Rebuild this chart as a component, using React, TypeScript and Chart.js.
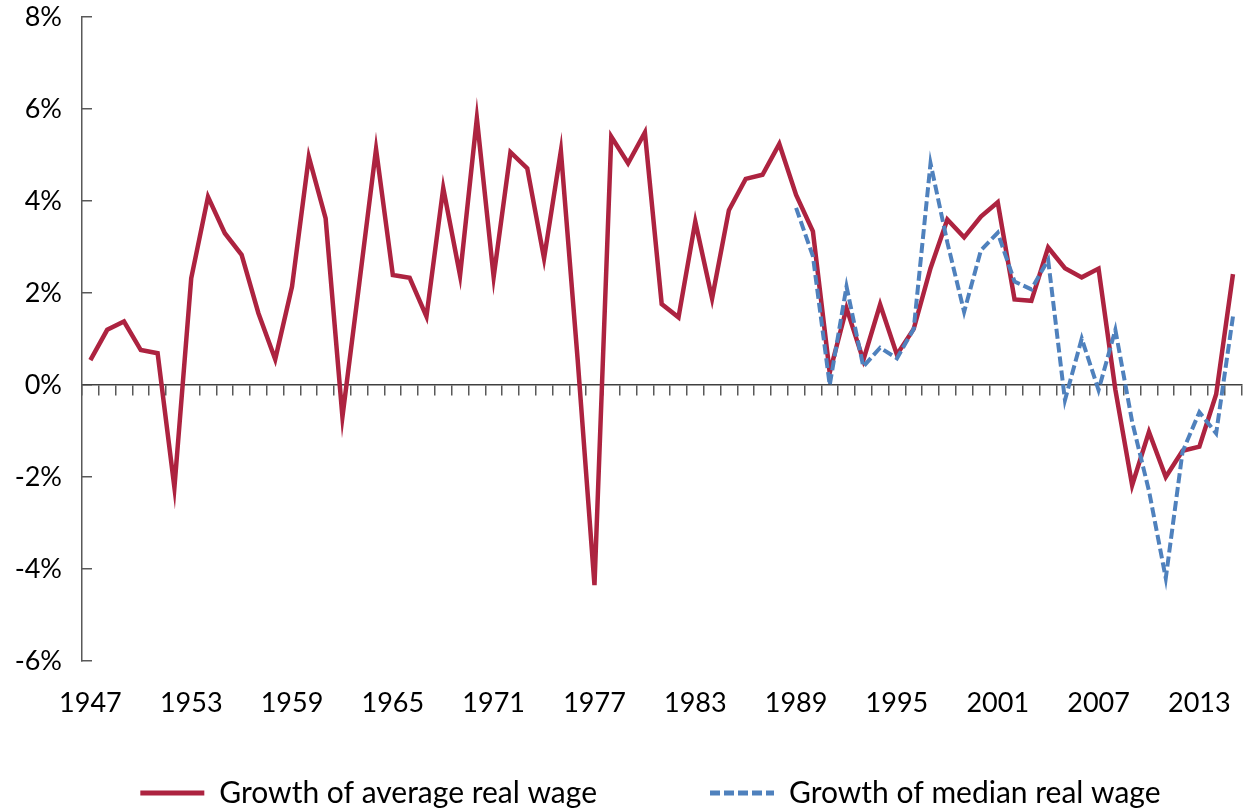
import React, { useEffect, useRef } from 'react';
import { Chart, registerables } from 'chart.js';

Chart.register(...registerables);

const years = [
  '1947', '1948', '1949', '1950', '1951', '1952', '1953', '1954', '1955', '1956',
  '1957', '1958', '1959', '1960', '1961', '1962', '1963', '1964', '1965', '1966',
  '1967', '1968', '1969', '1970', '1971', '1972', '1973', '1974', '1975', '1976',
  '1977', '1978', '1979', '1980', '1981', '1982', '1983', '1984', '1985', '1986',
  '1987', '1988', '1989', '1990', '1991', '1992', '1993', '1994', '1995', '1996',
  '1997', '1998', '1999', '2000', '2001', '2002', '2003', '2004', '2005', '2006',
  '2007', '2008', '2009', '2010', '2011', '2012', '2013', '2014', '2015',
];

const averageWageGrowth = [
  0.54, 1.2, 1.38, 0.76, 0.69, -2.23, 2.32, 4.09, 3.3, 2.83,
  1.56, 0.56, 2.14, 4.96, 3.62, -0.69, 2.2, 5.13, 2.39, 2.33,
  1.49, 4.28, 2.38, 5.8, 2.35, 5.06, 4.71, 2.75, 5.09, 0.55,
  -4.35, 5.4, 4.82, 5.49, 1.76, 1.47, 3.55, 1.88, 3.8, 4.48,
  4.57, 5.24, 4.13, 3.34, 0.27, 1.67, 0.54, 1.75, 0.66, 1.22,
  2.54, 3.6, 3.21, 3.66, 3.97, 1.86, 1.83, 2.99, 2.54, 2.34,
  2.53, -0.1, -2.18, -1.02, -2.0, -1.43, -1.34, -0.2, 2.41,
];

const medianWageGrowth = [
  null, null, null, null, null, null, null, null, null, null,
  null, null, null, null, null, null, null, null, null, null,
  null, null, null, null, null, null, null, null, null, null,
  null, null, null, null, null, null, null, null, null, null,
  null, null, 3.85, 2.8, 0.0, 2.14, 0.4, 0.81, 0.58, 1.22,
  4.82, 3.1, 1.59, 2.93, 3.31, 2.25, 2.08, 2.72, -0.33, 1.01,
  -0.11, 1.2, -0.8, -2.3, -4.2, -1.45, -0.59, -1.05, 1.49,
];

const seriesNames = ['Growth of average real wage', 'Growth of median real wage'];
const legendTrail = ['\u2003\u2003\u2003\u2003   ', '\u2003'];
const yMin = -6;
const yMax = 8;
const yStep = 2;
const labelEvery = 6;

const RED = '#AD2340';
const BLUE = '#4F81BD';
const AXIS = '#595959';
const ZERO = '#404040';
const TICK_FONT = { family: 'Lato', size: 27 };
const LEGEND_FONT = { family: 'Lato', size: 30 };

export default function App() {
  const ref = useRef<HTMLCanvasElement>(null);

  useEffect(() => {
    const canvas = ref.current;
    if (!canvas) return;
    const chart = new Chart(canvas, {
      type: 'line',
      data: {
        labels: years,
        datasets: [
          {
            label: seriesNames[0],
            data: averageWageGrowth,
            borderColor: RED,
            backgroundColor: RED,
            borderWidth: 4.5,
            pointRadius: 0,
            tension: 0,
            order: 1,
          },
          {
            label: seriesNames[1],
            data: medianWageGrowth,
            borderColor: BLUE,
            backgroundColor: BLUE,
            borderWidth: 4,
            borderDash: [10, 4],
            pointRadius: 0,
            tension: 0,
            spanGaps: false,
            order: 0,
          },
        ],
      },
      options: {
        animation: false,
        responsive: false,
        devicePixelRatio: 1,
        layout: { padding: { left: 0, right: 4, top: 17, bottom: -10 } },
        plugins: {
          legend: {
            position: 'bottom',
            fullSize: false,
            labels: {
              usePointStyle: true,
              pointStyle: 'line',
              pointStyleWidth: 64,
              color: '#000',
              font: LEGEND_FONT,
              padding: 0,
              generateLabels: (c: any) =>
                c.data.datasets.map((ds: any, i: number) => ({
                  text: ds.label + legendTrail[i],
                  fillStyle: ds.borderColor,
                  strokeStyle: ds.borderColor,
                  lineWidth: 5,
                  lineDash: ds.borderDash || [],
                  lineCap: 'butt',
                  pointStyle: 'line',
                  hidden: false,
                  datasetIndex: i,
                })),
            },
          },
          tooltip: { enabled: false },
        },
        scales: {
          x: {
            type: 'category',
            position: 'bottom',
            offset: true,
            grid: { display: false },
            border: { display: false },
            ticks: {
              autoSkip: false,
              maxRotation: 0,
              minRotation: 0,
              padding: 18,
              color: '#000',
              font: TICK_FONT,
              callback: (_v: any, i: number) => (i % labelEvery === 0 ? years[i] : ''),
            },
            afterFit: (s: any) => {
              s.height = 117;
            },
          },
          x2: {
            type: 'category',
            labels: years,
            position: { y: 0 },
            offset: true,
            grid: {
              display: true,
              drawOnChartArea: false,
              offset: true,
              tickLength: 10,
              color: AXIS,
              lineWidth: 1.5,
            },
            border: { display: true, color: ZERO, width: 1.5 },
            ticks: { display: false },
            afterFit: (s: any) => {
              s.height = 0;
            },
          },
          y: {
            min: yMin,
            max: yMax,
            ticks: {
              stepSize: yStep,
              padding: 30,
              color: '#000',
              font: TICK_FONT,
              callback: (v: any) => `${v}%`,
            },
            grid: {
              drawOnChartArea: false,
              drawTicks: true,
              tickLength: -10,
              color: AXIS,
              lineWidth: 1.5,
            },
            border: { display: true, color: AXIS, width: 1.5 },
            afterFit: (s: any) => {
              s.width = 82;
              s.paddingTop = 0;
              s.paddingBottom = 0;
            },
          },
        },
      },
    } as any);
    return () => chart.destroy();
  }, []);

  return (
    <div style={{ position: 'fixed', left: 0, top: 0, width: 1251, height: 808, background: '#fff' }}>
      <canvas ref={ref} width={1251} height={808} style={{ display: 'block' }} />
    </div>
  );
}
